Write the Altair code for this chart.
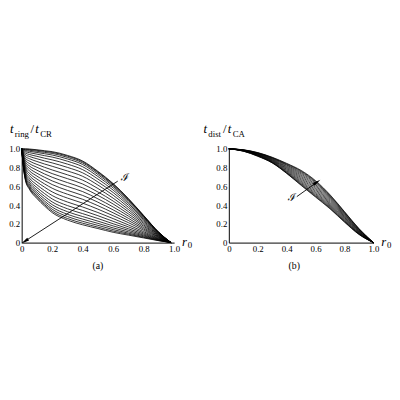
import altair as alt
import pandas as pd

# ---------------- data ----------------
a_r = [0, 0.01, 0.025, 0.05, 0.1, 0.15, 0.2, 0.3, 0.4, 0.5, 0.6, 0.7, 0.8, 0.9, 0.98]
a_curves = [
    [1, 1.0, 1.0, 0.998, 0.99, 0.98, 0.97, 0.93, 0.87, 0.76, 0.63, 0.47, 0.29, 0.11, 0],
    [1, 0.998, 0.996, 0.993, 0.984, 0.973, 0.962, 0.922, 0.862, 0.753, 0.624, 0.465, 0.287, 0.109, 0],
    [1, 0.995, 0.990, 0.985, 0.974, 0.962, 0.951, 0.909, 0.850, 0.742, 0.614, 0.458, 0.283, 0.107, 0],
    [1, 0.990, 0.981, 0.974, 0.961, 0.948, 0.934, 0.892, 0.833, 0.726, 0.601, 0.449, 0.277, 0.105, 0],
    [1, 0.984, 0.969, 0.959, 0.943, 0.927, 0.912, 0.868, 0.809, 0.705, 0.583, 0.435, 0.268, 0.102, 0],
    [1, 0.976, 0.954, 0.940, 0.920, 0.900, 0.882, 0.837, 0.778, 0.678, 0.560, 0.417, 0.258, 0.098, 0],
    [1, 0.967, 0.937, 0.919, 0.894, 0.871, 0.850, 0.802, 0.744, 0.647, 0.534, 0.398, 0.246, 0.093, 0],
    [1, 0.957, 0.918, 0.895, 0.865, 0.838, 0.814, 0.764, 0.707, 0.614, 0.505, 0.376, 0.232, 0.088, 0],
    [1, 0.946, 0.898, 0.870, 0.834, 0.803, 0.775, 0.723, 0.666, 0.577, 0.474, 0.353, 0.218, 0.083, 0],
    [1, 0.935, 0.878, 0.844, 0.803, 0.768, 0.736, 0.682, 0.625, 0.540, 0.443, 0.330, 0.204, 0.078, 0],
    [1, 0.924, 0.857, 0.818, 0.772, 0.732, 0.697, 0.640, 0.584, 0.504, 0.412, 0.306, 0.189, 0.072, 0],
    [1, 0.914, 0.837, 0.793, 0.740, 0.697, 0.658, 0.599, 0.544, 0.467, 0.380, 0.283, 0.175, 0.067, 0],
    [1, 0.903, 0.816, 0.767, 0.709, 0.661, 0.619, 0.557, 0.503, 0.431, 0.349, 0.259, 0.160, 0.061, 0],
    [1, 0.892, 0.796, 0.741, 0.678, 0.626, 0.580, 0.516, 0.462, 0.394, 0.318, 0.236, 0.146, 0.056, 0],
    [1, 0.881, 0.776, 0.716, 0.647, 0.591, 0.541, 0.475, 0.421, 0.357, 0.287, 0.213, 0.132, 0.051, 0],
    [1, 0.870, 0.755, 0.690, 0.616, 0.555, 0.502, 0.433, 0.380, 0.321, 0.256, 0.189, 0.117, 0.045, 0],
    [1, 0.861, 0.737, 0.666, 0.587, 0.523, 0.466, 0.395, 0.343, 0.287, 0.227, 0.168, 0.104, 0.040, 0],
    [1, 0.852, 0.720, 0.645, 0.561, 0.493, 0.434, 0.361, 0.309, 0.257, 0.201, 0.148, 0.092, 0.036, 0],
    [1, 0.843, 0.704, 0.626, 0.538, 0.467, 0.405, 0.330, 0.278, 0.229, 0.178, 0.131, 0.081, 0.032, 0],
    [1, 0.836, 0.691, 0.609, 0.517, 0.443, 0.379, 0.302, 0.251, 0.205, 0.157, 0.115, 0.072, 0.028, 0],
    [1, 0.830, 0.679, 0.594, 0.499, 0.422, 0.356, 0.278, 0.227, 0.184, 0.139, 0.101, 0.063, 0.025, 0],
    [1, 0.825, 0.669, 0.581, 0.483, 0.405, 0.336, 0.257, 0.207, 0.165, 0.123, 0.090, 0.056, 0.022, 0],
    [1, 0.82, 0.66, 0.57, 0.47, 0.39, 0.32, 0.24, 0.19, 0.15, 0.11, 0.08, 0.05, 0.02, 0],
]

b_r = [0, 0.1, 0.2, 0.3, 0.4, 0.5, 0.6, 0.7, 0.8, 0.9, 1.0]
b_curves = [
    [1, 0.990, 0.960, 0.910, 0.845, 0.770, 0.660, 0.510, 0.330, 0.150, 0],
    [1, 0.989, 0.958, 0.907, 0.840, 0.763, 0.653, 0.504, 0.326, 0.147, 0],
    [1, 0.988, 0.956, 0.904, 0.834, 0.755, 0.644, 0.496, 0.320, 0.144, 0],
    [1, 0.987, 0.954, 0.900, 0.827, 0.744, 0.632, 0.486, 0.312, 0.139, 0],
    [1, 0.986, 0.951, 0.895, 0.818, 0.732, 0.618, 0.474, 0.304, 0.134, 0],
    [1, 0.985, 0.948, 0.890, 0.809, 0.719, 0.604, 0.462, 0.295, 0.129, 0],
    [1, 0.984, 0.945, 0.885, 0.800, 0.706, 0.590, 0.450, 0.286, 0.124, 0],
    [1, 0.983, 0.942, 0.880, 0.791, 0.693, 0.576, 0.438, 0.277, 0.119, 0],
    [1, 0.982, 0.939, 0.875, 0.782, 0.680, 0.562, 0.426, 0.268, 0.114, 0],
    [1, 0.981, 0.936, 0.870, 0.773, 0.667, 0.548, 0.414, 0.259, 0.109, 0],
    [1, 0.980, 0.933, 0.865, 0.764, 0.654, 0.534, 0.402, 0.250, 0.104, 0],
    [1, 0.979, 0.930, 0.860, 0.756, 0.642, 0.521, 0.391, 0.242, 0.099, 0],
    [1, 0.978, 0.927, 0.856, 0.749, 0.631, 0.509, 0.381, 0.234, 0.095, 0],
    [1, 0.977, 0.925, 0.853, 0.744, 0.622, 0.499, 0.372, 0.227, 0.092, 0],
    [1, 0.976, 0.923, 0.851, 0.740, 0.615, 0.491, 0.365, 0.222, 0.089, 0],
    [1, 0.975, 0.920, 0.850, 0.738, 0.610, 0.485, 0.360, 0.218, 0.087, 0],
]

a_arrow_r = [0.63, 0.02]
a_arrow_v = [0.655, 0.014]
b_arrow_r = [0.47, 0.61]
b_arrow_v = [0.49, 0.645]
tick_values = [0, 0.2, 0.4, 0.6, 0.8, 1.0]

SERIF = "Liberation Serif"


def long_table(rs, curves):
    rows = []
    for k, vals in enumerate(curves):
        for r, v in zip(rs, vals):
            rows.append({"curve": k, "r": r, "v": v})
    return pd.DataFrame(rows)


label_expr = "datum.value == 0 ? '0' : format(datum.value, '.1f')"


def axis():
    return alt.Axis(values=tick_values, labelExpr=label_expr, title=None,
                    labelOverlap=False, labelFlush=False, labelBound=False)


def xy():
    x = alt.X("r:Q", scale=alt.Scale(domain=[0, 1], nice=False), axis=axis())
    y = alt.Y("v:Q", scale=alt.Scale(domain=[0, 1], nice=False), axis=axis())
    return x, y


def txt(s, px, py, size, italic=False, font=SERIF, align="left", baseline="alphabetic"):
    kw = dict(text=s, fontSize=size, font=font, align=align, baseline=baseline, color="black")
    if italic:
        kw["fontStyle"] = "italic"
    return alt.Chart(pd.DataFrame({"s": [s]})).mark_text(**kw).encode(
        x=alt.value(px), y=alt.value(py))


def panel(rs, curves, arr_r, arr_v, arrow_angle, sw, width, texts):
    x, y = xy()
    lines = alt.Chart(long_table(rs, curves)).mark_line(
        color="black", strokeWidth=sw, interpolate="monotone"
    ).encode(x=x, y=y, detail="curve:N")
    arr = pd.DataFrame({"r": arr_r, "v": arr_v})
    arrow = alt.Chart(arr).mark_line(color="black", strokeWidth=0.9).encode(x=x, y=y)
    head = alt.Chart(arr.iloc[[1]]).mark_point(
        shape="M0,-1L0.4,1L-0.4,1Z", filled=True, color="black", opacity=1,
        size=70, angle=arrow_angle
    ).encode(x=x, y=y)
    return alt.layer(lines, arrow, head, *texts).properties(width=width, height=96)


left_texts = [
    txt("t", -12, -16, 13, italic=True),
    txt("ring", -7, -12, 9),
    txt("/", 9, -16, 13),
    txt("t", 14, -16, 13, italic=True),
    txt("CR", 19, -12, 9),
    txt("r", 164, 99, 13, italic=True),
    txt("0", 170, 102, 9),
    txt("ℐ", 106, 30, 11, font="DejaVu Serif", align="center", baseline="middle"),
    txt("(a)", 78, 120, 10, align="center", baseline="middle"),
]
right_texts = [
    txt("t", -26, -16, 13, italic=True),
    txt("dist", -21, -12, 9),
    txt("/", -6, -16, 13),
    txt("t", -1, -16, 13, italic=True),
    txt("CA", 4, -12, 9),
    txt("r", 156, 99, 13, italic=True),
    txt("0", 162, 102, 9),
    txt("ℐ", 65, 50, 11, font="DejaVu Serif", align="center", baseline="middle"),
    txt("(b)", 67, 120, 10, align="center", baseline="middle"),
]

left = panel(a_r, a_curves, a_arrow_r, a_arrow_v, 237, 0.8, 156, left_texts)
right = panel(b_r, b_curves, b_arrow_r, b_arrow_v, 55, 0.7, 148, right_texts)

chart = alt.hconcat(left, right, spacing=56, bounds="flush").properties(
    padding={"left": 0, "top": 115, "right": 0, "bottom": 0}
).configure_view(stroke=None).configure_axis(
    grid=False, ticks=False, domainColor="black", domainWidth=1,
    labelFont=SERIF, labelFontSize=9, labelColor="black", labelPadding=2,
)

chart.save("out.html", embed_options={"renderer": "svg", "actions": False})
